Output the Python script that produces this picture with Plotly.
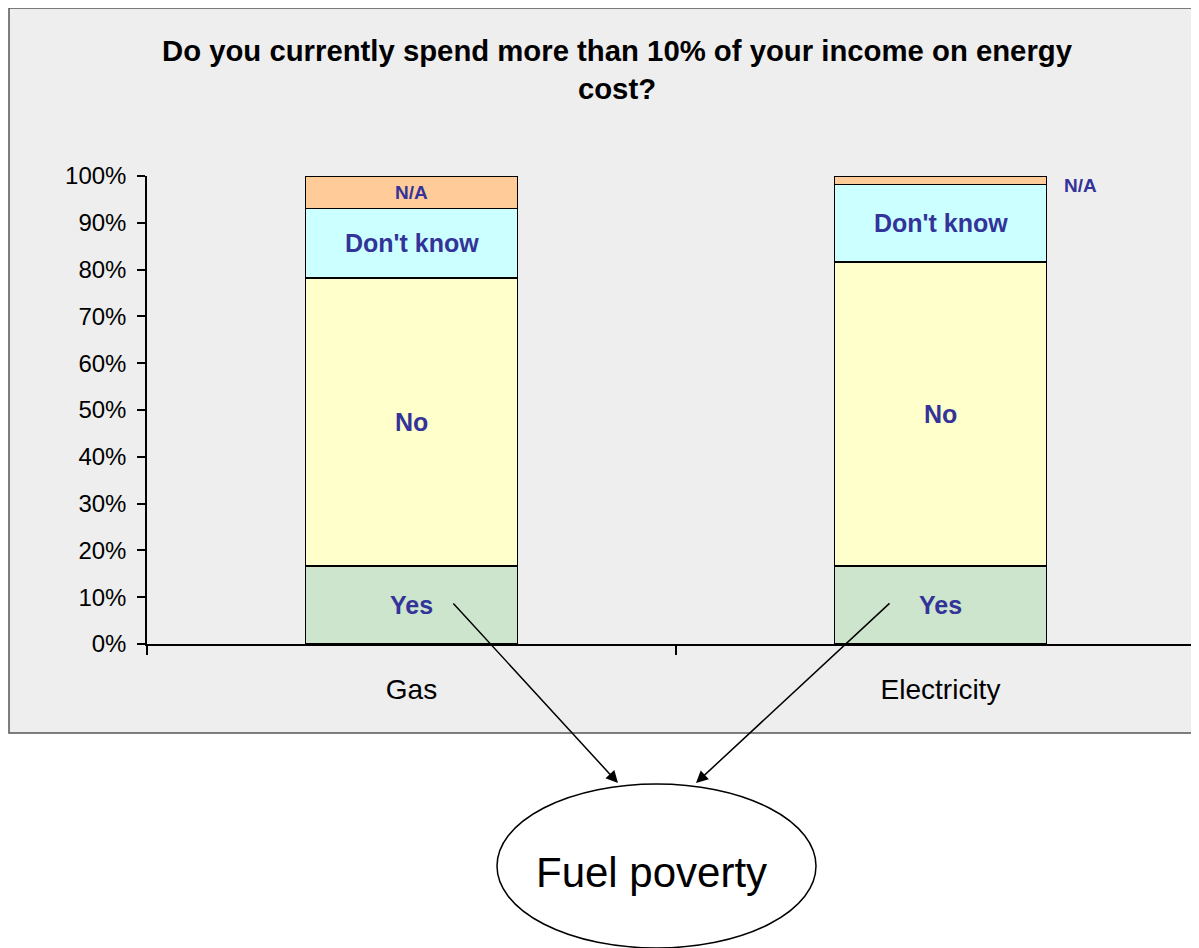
import plotly.graph_objects as go

# ---- data ----
categories = ["Gas", "Electricity"]
series_names = ["Yes", "No", "Don't know", "N/A"]
yes_vals = [0.167, 0.167]
no_vals = [0.615, 0.649]
dont_know_vals = [0.149, 0.166]
na_vals = [0.069, 0.018]
y_tick_vals = [0, 0.1, 0.2, 0.3, 0.4, 0.5, 0.6, 0.7, 0.8, 0.9, 1.0]
title_text = "Do you currently spend more than 10% of your income on energy<br>cost?"
bubble_text = "Fuel poverty"

series_vals = [yes_vals, no_vals, dont_know_vals, na_vals]
series_colors = ["#CCE5CC", "#FFFFCC", "#CCFFFF", "#FFCC99"]
label_color = "#333399"
FONT = "Liberation Sans, Arial, sans-serif"

OFF = 8  # page body margin
W, H = 1199 - OFF, 948 - OFF
L, R, T = 147 - OFF, 0, 176 - OFF
B = H - (644 - OFF)
PW = W - L - R
PH = H - T - B


def px_x(sx):
    # screen x -> paper
    return (sx - OFF - L) / PW


def px_y(sy):
    # screen y -> paper
    return (H - B - (sy - OFF)) / PH


fig = go.Figure()
for name, vals, col in zip(series_names, series_vals, series_colors):
    fig.add_trace(go.Bar(
        x=categories, y=vals, name=name, width=0.4,
        marker=dict(color=col, line=dict(color="black", width=1.5)),
        hoverinfo="skip",
    ))

annotations = []
# segment labels, centred in each segment
for ci, cat in enumerate(categories):
    base = 0.0
    for si, (name, vals) in enumerate(zip(series_names, series_vals)):
        v = vals[ci]
        mid = base + v / 2
        base += v
        size = 19 if name == "N/A" else 25
        if name == "N/A" and v < 0.04:
            annotations.append(dict(
                x=ci + 0.265, y=mid, xref="x", yref="y", text="<b>%s</b>" % name,
                showarrow=False, yshift=-5,
                font=dict(family=FONT, size=size, color=label_color)))
        else:
            annotations.append(dict(
                x=ci, y=mid, xref="x", yref="y", text="<b>%s</b>" % name,
                showarrow=False,
                font=dict(family=FONT, size=size, color=label_color)))

# arrows from "Yes" to the bubble
arrow_specs = [((452, 602), (618, 783)), ((891, 602), (696, 783))]
for (tx, ty), (hx, hy) in arrow_specs:
    annotations.append(dict(
        x=px_x(hx), y=px_y(hy), xref="paper", yref="paper", text="",
        showarrow=True, ax=tx - hx, ay=ty - hy, axref="pixel", ayref="pixel",
        arrowhead=2, arrowsize=1.6, arrowwidth=1.5, arrowcolor="black"))

annotations.append(dict(
    x=px_x(651), y=px_y(898), xref="paper", yref="paper", text=bubble_text,
    showarrow=False, font=dict(family=FONT, size=42, color="black")))

shapes = [
    dict(type="rect", xref="paper", yref="paper", layer="below",
         x0=px_x(9), x1=px_x(1230), y0=px_y(733), y1=px_y(8),
         fillcolor="#EEEEEE", line=dict(color="#555555", width=1.5)),
    dict(type="circle", xref="paper", yref="paper", layer="above",
         x0=px_x(497), x1=px_x(816), y0=px_y(948), y1=px_y(784),
         fillcolor="white", line=dict(color="black", width=1.5)),
]

fig.update_layout(
    width=W, height=H,
    margin=dict(l=L, r=R, t=T, b=B, autoexpand=False),
    paper_bgcolor="white", plot_bgcolor="rgba(0,0,0,0)",
    barmode="stack", showlegend=False,
    title=dict(text="<b>%s</b>" % title_text, x=(617 - OFF) / W, xanchor="center",
               xref="container", yref="container", y=1 - 53 / H, yanchor="top",
               font=dict(family=FONT, size=29.3, color="black")),
    xaxis=dict(type="category", range=[-0.5, 1.5 - 6 / 529], showline=True,
               linecolor="black", linewidth=1.5, ticks="outside", tickson="boundaries",
               ticklen=9, tickcolor="black", tickwidth=1.5, showgrid=False,
               tickfont=dict(family=FONT, size=28, color="black"),
               ticklabelstandoff=20),
    yaxis=dict(range=[0, 1], tickvals=y_tick_vals, tickformat=".0%", showline=True,
               linecolor="black", linewidth=1.5, ticks="outside", ticklen=8,
               tickcolor="black", tickwidth=1.5, showgrid=False, zeroline=False,
               tickfont=dict(family=FONT, size=24, color="black"),
               ticklabelstandoff=6),
    annotations=annotations,
    shapes=shapes,
)

fig.write_html("out.html")
